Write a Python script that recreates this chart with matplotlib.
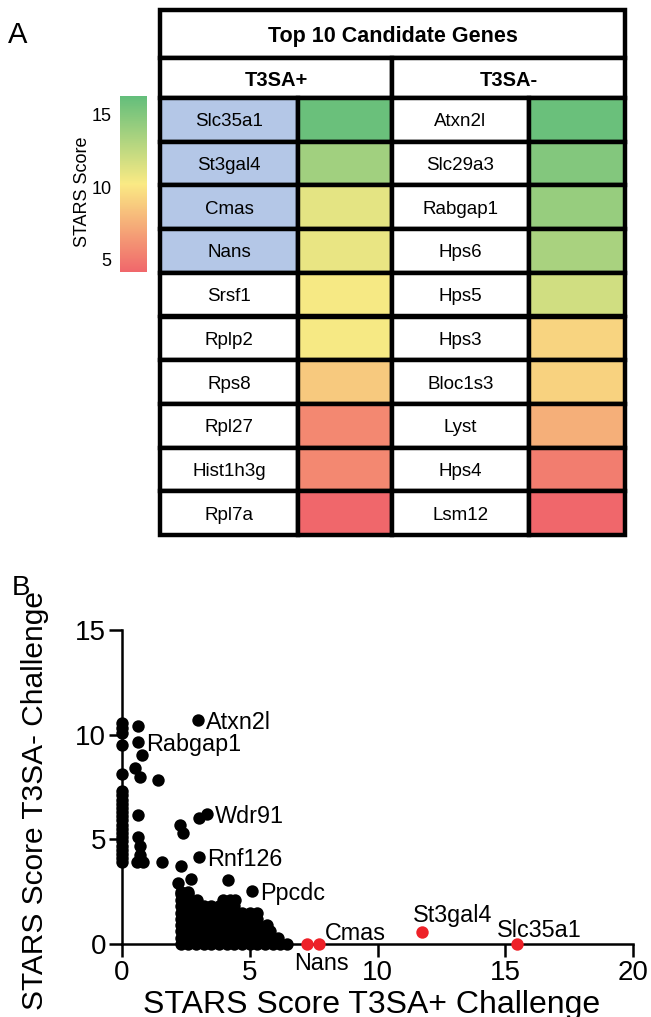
import matplotlib
matplotlib.use("Agg")
import matplotlib.pyplot as plt
from matplotlib.colors import LinearSegmentedColormap, Normalize
from matplotlib.patches import Rectangle
from matplotlib.cm import ScalarMappable

plt.rcParams['font.family'] = ['Liberation Sans', 'DejaVu Sans']

# ---------------------------------------------------------------
# data
# ---------------------------------------------------------------

table_title = "Top 10 Candidate Genes"
groups = ["T3SA+", "T3SA-"]

genes_pos = ["Slc35a1", "St3gal4", "Cmas", "Nans", "Srsf1",
             "Rplp2", "Rps8", "Rpl27", "Hist1h3g", "Rpl7a"]
score_pos = [16.0, 13.8, 11.1, 10.9, 10.4, 10.4, 8.7, 5.7, 5.7, 4.2]
sialic_pos = [True, True, True, True, False, False, False, False, False, False]

genes_neg = ["Atxn2l", "Slc29a3", "Rabgap1", "Hps6", "Hps5",
             "Hps3", "Bloc1s3", "Lyst", "Hps4", "Lsm12"]
score_neg = [16.0, 15.0, 14.2, 13.5, 11.9, 9.2, 9.1, 7.5, 5.2, 4.2]

cbar_ticks = [5, 10, 15]

# scatter: x = STARS score T3SA+, y = STARS score T3SA-
col0_y = [10.56, 10.32, 10.08, 9.52, 8.13, 7.3, 7.1, 6.9, 6.7, 6.5, 6.3,
          6.1, 5.9, 5.7, 5.5, 5.3, 5.1, 4.9, 4.7, 4.5, 4.3, 4.1, 3.9]
other_x = [0.64, 0.77, 0.51, 0.70, 1.39, 0.64, 0.64, 0.70, 0.72, 0.58,
           0.83, 1.55, 2.27, 2.40, 3.00, 2.31, 2.21, 2.69, 4.13, 2.60, 2.30]
other_y = [10.40, 9.04, 8.40, 8.00, 7.85, 6.14, 5.09, 4.66, 4.26, 3.94,
           3.94, 3.91, 5.69, 5.30, 6.00, 3.75, 2.90, 3.10, 3.06, 2.50, 2.50]

# dense cluster, one row of x values per y level
blob_y = [2.4, 2.1, 1.8, 1.5, 1.2, 0.9, 0.6, 0.3, 0.0]
blob_x = [
    [2.3, 2.6],
    [2.3, 2.6, 2.93, 3.95, 4.24, 4.43],
    [2.3, 2.6, 2.9, 3.2, 3.5, 3.8, 4.1, 4.4],
    [2.3, 2.6, 2.9, 3.2, 3.5, 3.8, 4.1, 4.4, 4.7, 5.0, 5.28],
    [2.3, 2.6, 2.9, 3.2, 3.5, 3.8, 4.1, 4.4, 4.7, 5.0, 5.3],
    [2.3, 2.6, 2.9, 3.2, 3.5, 3.8, 4.1, 4.4, 4.7, 5.0, 5.3, 5.67],
    [2.3, 2.6, 2.9, 3.2, 3.5, 3.8, 4.1, 4.4, 4.7, 5.0, 5.3, 5.6, 5.8],
    [2.3, 2.6, 2.9, 3.2, 3.5, 3.8, 4.1, 4.4, 4.7, 5.0, 5.3, 5.6, 5.9, 6.1],
    [2.3, 2.6, 2.9, 3.2, 3.5, 3.8, 4.1, 4.4, 4.7, 5.0, 5.3, 5.6, 5.9, 6.2, 6.45],
]

label_names = ["Atxn2l", "Rabgap1", "Wdr91", "Rnf126", "Ppcdc"]
label_x = [2.98, 0.64, 3.32, 3.02, 5.08]
label_y = [10.68, 9.63, 6.20, 4.15, 2.54]

red_names = ["Nans", "Cmas", "St3gal4", "Slc35a1"]
red_x = [7.25, 7.70, 11.75, 15.45]
red_y = [0.0, 0.0, 0.57, 0.0]
red_offsets = [(-13, -26), (6, 4), (-9, 10), (-20, 7)]   # pixels, baseline

# ---------------------------------------------------------------
# figure
# ---------------------------------------------------------------

W, H = 651, 1017
fig = plt.figure(figsize=(W / 100, H / 100), dpi=100)

cmap = LinearSegmentedColormap.from_list("stars", ["#F0676B", "#FAEA84", "#63BE7B"])
norm = Normalize(vmin=4.17, vmax=16.3)

# ---- panel A : table ----
tax = fig.add_axes([160 / W, 1 - 535 / H, 465 / W, 525 / H])
tax.set_xlim(0, 465)
tax.set_ylim(525, 0)
tax.axis("off")

col_x = [0, 138, 232, 369, 465]
title_h, head_h = 48, 40
row_h = (525 - title_h - head_h) / len(genes_pos)
lw = 3.2


def cell(x0, x1, y0, h, color, text=None, **kw):
    tax.add_patch(Rectangle((x0, y0), x1 - x0, h, facecolor=color,
                            edgecolor="black", lw=lw, clip_on=False))
    if text:
        tax.text((x0 + x1) / 2, y0 + h / 2, text, ha="center",
                 va="center_baseline", **kw)


cell(0, 465, 0, title_h, "white", table_title, fontsize=15.5, fontweight="bold")
cell(col_x[0], col_x[2], title_h, head_h, "white", groups[0], fontsize=14.5, fontweight="bold")
cell(col_x[2], col_x[4], title_h, head_h, "white", groups[1], fontsize=14.5, fontweight="bold")

for i in range(len(genes_pos)):
    y0 = title_h + head_h + i * row_h
    cell(col_x[0], col_x[1], y0, row_h, "#B4C7E7" if sialic_pos[i] else "white",
         genes_pos[i], fontsize=13.5)
    cell(col_x[1], col_x[2], y0, row_h, cmap(norm(score_pos[i])))
    cell(col_x[2], col_x[3], y0, row_h, "white", genes_neg[i], fontsize=13.5)
    cell(col_x[3], col_x[4], y0, row_h, cmap(norm(score_neg[i])))

# colorbar
cax = fig.add_axes([120 / W, 1 - 272 / H, 27 / W, 176 / H])
cb = fig.colorbar(ScalarMappable(norm=norm, cmap=cmap), cax=cax)
cb.outline.set_visible(False)
cb.set_ticks(cbar_ticks)
cax.yaxis.set_ticks_position("left")
cax.yaxis.set_label_position("left")
cax.tick_params(length=0, labelsize=13, pad=6)
cax.set_ylabel("STARS Score", fontsize=13, va="baseline")
cax.yaxis.set_label_coords(-1.22, 0.455)

fig.text(8 / W, 1 - 43 / H, "A", fontsize=21, va="baseline")

# ---- panel B : scatter ----
sax = fig.add_axes([122 / W, 1 - 944 / H, 511 / W, 314 / H])
sax.set_xlim(0, 20)
sax.set_ylim(0, 15)
for s in ["top", "right"]:
    sax.spines[s].set_visible(False)
for s in ["left", "bottom"]:
    sax.spines[s].set_linewidth(1.8)
sax.set_xticks([0, 5, 10, 15, 20])
sax.set_yticks([0, 5, 10, 15])
sax.tick_params(direction="out", length=9.5, width=1.8, labelsize=20, pad=2)

dot = dict(s=80, linewidths=0, clip_on=False, zorder=3)
sax.scatter([0] * len(col0_y), col0_y, color="black", **dot)
sax.scatter(other_x, other_y, color="black", **dot)
for y, xs in zip(blob_y, blob_x):
    sax.scatter(xs, [y] * len(xs), color="black", **dot)
sax.scatter(label_x, label_y, color="black", **dot)
sax.scatter(red_x, red_y, color="#EE2128", **dot)

for name, x, y in zip(label_names, label_x, label_y):
    sax.annotate(name, (x, y), xytext=(8, 0), textcoords="offset pixels",
                 ha="left", va="center_baseline", fontsize=16.8)
for name, x, y, off in zip(red_names, red_x, red_y, red_offsets):
    sax.annotate(name, (x, y), xytext=off, textcoords="offset pixels",
                 ha="left", va="baseline", fontsize=16.8)

sax.set_xlabel("STARS Score T3SA+ Challenge", fontsize=23, va="baseline")
sax.xaxis.set_label_coords(0.489, -0.2197)
sax.set_ylabel("STARS Score T3SA- Challenge", fontsize=21.5, va="baseline")
sax.yaxis.set_label_coords(-0.1546, 0.458)

fig.text(12 / W, 1 - 595 / H, "B", fontsize=20, va="baseline")

fig.savefig("out.png", dpi=100)
